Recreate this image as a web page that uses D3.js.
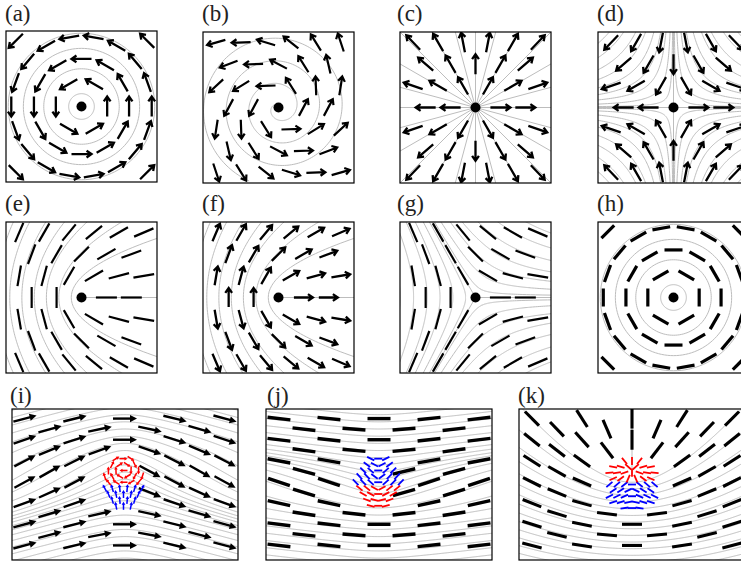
<!DOCTYPE html>
<html>
<head>
<meta charset="utf-8">
<script src="https://cdn.jsdelivr.net/npm/d3@7"></script>
<style>
  body { margin: 0; background: #fff; }
  svg { display: block; }
</style>
</head>
<body>
<script>
// ---- data ----
const labels = ["(a)", "(b)", "(c)", "(d)", "(e)", "(f)", "(g)", "(h)", "(i)", "(j)", "(k)"];

// point defects (a)-(h): charge, phase (deg), vector or director
const charges = [1, 1, 1, -1, 0.5, 0.5, -0.5, 1];
const phases = [90, 62, 0, 0, 0, 0, 0, 90];
const polar = [true, true, true, true, false, true, false, false];
const onRings = [true, false, false, false, false, false, false, true];

// marks on rings in (a) and (h)
const ringCounts = [6, 12, 18];
const ringRadii = [0.34, 0.63, 0.93];
const cornerMarks = [[-0.87, 0.87], [0.87, 0.87], [-0.87, -0.87], [0.87, -0.87]];

// lattice for the other square panels
const latticeRows = [-3, -2, -1, 0, 1, 2, 3];
const latticeCols = [-3, -2, -1, 0, 1, 2, 3];
const rowStep = 0.287, colStep = 0.33;

// grey guide lines
const circleRadii = [0.17, 0.5, 0.77, 0.97];
const radialAngles = d3.range(0, 360, 15);
const hyperbolaC = [0.012, 0.045, 0.1, 0.17, 0.26, 0.37, 0.5, 0.66, 0.85];
const parabolaP = [0.27, 0.6, 0.93, 1.25, 1.58, 1.9, 2.25, 2.6, 3.0, 3.4];
const trefoilR = [0.13, 0.3, 0.47, 0.64, 0.82, 1.0, 1.2];
const spiralTurns = 3.5, spiralPitch = 0.3, spiralEnd = 250;

// wide panels (i)-(k)
const wideCols = [-4, -3, -2, -1, 0, 1, 2, 3, 4];
const wideRows = [-3, -2, -1, 0, 1, 2, 3];
const wideColStep = 0.332, wideRowStep = 0.28, wideRowBase = 0.033;
const streamStarts = d3.range(-1.45, 1.5, 0.095);
const bumpSign = [-1, 1];          // (i) bends up, (j) bends down
const bumpSlope = [0.27, 0.12];
const bumpBoost = [0.3, 0.22];
const bumpCentre = [0.15, 0.0];
const bumpSpread = [0.38, 0.3];
const bumpWidth = [0.35, 0.4];
const defectK = [0, 0.19];         // +1/2 defect in (k)
const bendK = 15;                  // extra bend of the (k) far field, deg
const kStarts = d3.range(0.16, 1.75, 0.088);
const clusterCentre = [[-0.02, 0.03], [-0.01, 0.03], [0, 0.0]];
const clusterRadii = [[0.3, 0.37], [0.31, 0.37], [0.33, 0.38]];
const clusterSplit = [-0.04, -0.02, 0.007];
const clusterTop = ["#f00", "#00f", "#f00"];
const clusterBottom = ["#00f", "#f00", "#00f"];
const vortexI = [-0.02, 0.19];
const chevronJ = [0.2, 0.9, 0.1, 0.25];   // base slope, boost, centre, spread
const chevronK = [0.9, -0.38, 0.39];      // max slope, bottom, height

// ---- layout ----
const W = 741, H = 562;
const squareBoxes = [[6, 31], [203, 32], [400, 32], [598, 32], [6, 222], [203, 222], [400, 222], [598, 222]];
const S = 151;
const wideBoxes = [[12, 409], [266, 409], [519, 409]];
const WW = 226, WH = 151;
const labelXY = [[5, 21], [202, 21], [397, 21], [597, 21], [5, 211], [202, 211], [397, 211], [597, 211], [10, 403], [267, 403], [518, 403]];
const markLen = [20, 19, 20, 20, 21, 19, 21, 18];
const markWidth = [2.3, 2.2, 2.3, 2.3, 2.2, 2.3, 2.2, 3.2];
const GREY = "#bdbdbd";

const svg = d3.select("body").append("svg").attr("width", W).attr("height", H);
const defs = svg.append("defs");

// ---- helpers ----
function seg(px, py, ang, len) {
  const ux = Math.cos(ang) * len / 2, uy = -Math.sin(ang) * len / 2;
  return [px - ux, py - uy, px + ux, py + uy];
}
function barPath(d, len) {
  const [x0, y0, x1, y1] = seg(d.x, d.y, d.a, len);
  return `M${x0},${y0}L${x1},${y1}`;
}
function openArrowPath(d, len, head) {
  const [x0, y0, x1, y1] = seg(d.x, d.y, d.a, len);
  const b1 = d.a + Math.PI - 0.6, b2 = d.a + Math.PI + 0.6;
  return `M${x0},${y0}L${x1},${y1}` +
    `M${x1 + head * Math.cos(b1)},${y1 - head * Math.sin(b1)}L${x1},${y1}` +
    `L${x1 + head * Math.cos(b2)},${y1 - head * Math.sin(b2)}`;
}
function shaftPath(d, len, head) {
  const [x0, y0, x1, y1] = seg(d.x, d.y, d.a, len);
  const cx = Math.cos(d.a), cy = -Math.sin(d.a);
  return `M${x0},${y0}L${x1 - cx * head * 0.6},${y1 - cy * head * 0.6}`;
}
function headPath(d, len, head, hw) {
  const [, , x1, y1] = seg(d.x, d.y, d.a, len);
  const cx = Math.cos(d.a), cy = -Math.sin(d.a);
  const bx = x1 - cx * head, by = y1 - cy * head;
  return `M${x1},${y1}L${bx - cy * hw},${by + cx * hw}L${bx + cy * hw},${by - cx * hw}Z`;
}

function panelFrame(k, bx, by, bw, bh, xdom) {
  const sx = d3.scaleLinear().domain(xdom).range([bx, bx + bw]);
  const sy = d3.scaleLinear().domain([-1, 1]).range([by + bh, by]);
  defs.append("clipPath").attr("id", "clip" + k)
    .append("rect").attr("x", bx).attr("y", by).attr("width", bw).attr("height", bh);
  const g = svg.append("g").attr("class", "panel" + k);
  return { sx, sy, g };
}

function drawGuides(p, lines, clipped, k) {
  const line = d3.line().x(d => p.sx(d[0])).y(d => p.sy(d[1]));
  p.g.append("g")
    .attr("clip-path", clipped ? `url(#clip${k})` : null)
    .selectAll("path")
    .data(lines)
    .join("path")
    .attr("d", line)
    .attr("fill", "none")
    .attr("stroke", GREY)
    .attr("stroke-width", 1);
}

function drawBox(bx, by, bw, bh) {
  svg.append("rect")
    .attr("x", bx).attr("y", by).attr("width", bw).attr("height", bh)
    .attr("fill", "none").attr("stroke", "#000").attr("stroke-width", 1.2);
}

// ---- square panels (a)-(h) ----
function latticePoints() {
  const pts = [];
  latticeRows.forEach(j => {
    const half = Math.abs(j) % 2 ? 0.5 : 0;
    latticeCols.forEach(i => {
      const x = (i + half) * colStep, y = j * rowStep;
      if (Math.abs(x) > 0.86 || Math.hypot(x, y) < 0.2) return;
      pts.push([x, y]);
    });
  });
  return pts;
}
function ringPoints() {
  const pts = [];
  ringCounts.forEach((n, r) => d3.range(n).forEach(m => {
    const t = 2 * Math.PI * m / n;
    pts.push([ringRadii[r] * Math.cos(t), ringRadii[r] * Math.sin(t)]);
  }));
  return pts.concat(cornerMarks);
}

function guideLines(k) {
  const L = [];
  const rad = a => a * Math.PI / 180;
  if (k === 0 || k === 7) {
    circleRadii.forEach(r => L.push(d3.range(0, 362, 3).map(t => [r * Math.cos(rad(t)), r * Math.sin(rad(t))])));
  } else if (k === 1) {
    const span = spiralTurns * 2 * Math.PI;
    const t0 = rad(spiralEnd) - span;
    L.push(d3.range(0, span + 0.001, 0.04).map(u => {
      const r = spiralPitch * u / (2 * Math.PI);
      return [r * Math.cos(t0 + u), r * Math.sin(t0 + u)];
    }));
  } else if (k === 2) {
    radialAngles.forEach(a => L.push([[0, 0], [1.6 * Math.cos(rad(a)), 1.6 * Math.sin(rad(a))]]));
  } else if (k === 3) {
    hyperbolaC.forEach(c => [[1, 1], [1, -1], [-1, 1], [-1, -1]].forEach(([qx, qy]) => {
      const lo = Math.log(c / 1.6), hi = Math.log(1.6);
      L.push(d3.range(0, 1.001, 0.01).map(t => {
        const x = Math.exp(lo + t * (hi - lo));
        return [qx * x, qy * c / x];
      }));
    }));
    L.push([[-1.6, 0], [1.6, 0]], [[0, -1.6], [0, 1.6]]);
  } else if (k === 4 || k === 5) {
    parabolaP.forEach(p => L.push(d3.range(-1.6, 1.601, 0.02).map(y => [(y * y - p * p) / (2 * p), y])));
    L.push([[0, 0], [1.6, 0]]);
  } else if (k === 6) {
    trefoilR.forEach(r0 => {
      const c = Math.pow(r0, 1.5);
      [0, 1, 2].forEach(s => {
        const pts = [];
        for (let t = 0.003; t < 0.997; t += 0.003) {
          const phi = (s + t) * 2 * Math.PI / 3;
          const r = Math.pow(c / Math.abs(Math.sin(1.5 * phi)), 2 / 3);
          if (r < 2.2) pts.push([r * Math.cos(phi), r * Math.sin(phi)]);
        }
        L.push(pts);
      });
    });
    [0, 120, 240].forEach(a => L.push([[0, 0], [1.6 * Math.cos(rad(a)), 1.6 * Math.sin(rad(a))]]));
  }
  return L;
}

squareBoxes.forEach(([bx, by], k) => {
  const p = panelFrame(k, bx, by, S, S, [-1, 1]);
  drawGuides(p, guideLines(k), k !== 1, k);

  const pts = onRings[k] ? ringPoints() : latticePoints();
  const marks = pts.map(([x, y]) => ({
    x: p.sx(x), y: p.sy(y),
    a: charges[k] * Math.atan2(y, x) + phases[k] * Math.PI / 180
  }));

  p.g.append("g")
    .attr("clip-path", `url(#clip${k})`)
    .selectAll("path")
    .data(marks)
    .join("path")
    .attr("d", d => polar[k] ? openArrowPath(d, markLen[k], 6) : barPath(d, markLen[k]))
    .attr("fill", "none")
    .attr("stroke", "#000")
    .attr("stroke-width", markWidth[k])
    .attr("stroke-linejoin", "miter")
    .attr("stroke-miterlimit", 4);

  p.g.append("circle")
    .attr("cx", p.sx(0)).attr("cy", p.sy(0)).attr("r", 5)
    .attr("fill", "#000");
});

// ---- wide panels (i)-(k) ----
function bumpSlopeAt(m, x, y) {
  const g = Math.exp(-Math.pow((y - bumpCentre[m]) / bumpSpread[m], 2));
  const s = bumpSlope[m] + bumpBoost[m] * g;
  const w = bumpWidth[m] * (1 - 0.7 * g);
  return bumpSign[m] * s * x / Math.sqrt(x * x + w * w);
}
function streamline(m, y0) {
  const right = [[0, y0]], left = [];
  const h = 0.01;
  let x = 0, y = y0;
  while (x < 1.65) {
    const k1 = bumpSlopeAt(m, x, y);
    y += h * bumpSlopeAt(m, x + h / 2, y + k1 * h / 2); x += h;
    right.push([x, y]);
  }
  x = 0; y = y0;
  while (x > -1.65) {
    const k1 = bumpSlopeAt(m, x, y);
    y -= h * bumpSlopeAt(m, x - h / 2, y - k1 * h / 2); x -= h;
    left.unshift([x, y]);
  }
  return left.concat(right);
}
// +1/2 defect with its tail pointing up, slightly bent far field
function fieldK(x, y) {
  let phi = Math.atan2(y - defectK[1], x - defectK[0]);
  if (phi < -Math.PI / 2) phi += 2 * Math.PI;
  const u = phi - Math.PI / 2;
  return Math.PI / 2 + 0.5 * u + bendK * Math.PI / 180 * Math.sin(u);
}
function directorLine(f, x0, y0) {
  const h = 0.01;
  const halves = [1, -1].map(sgn => {
    let x = x0, y = y0;
    let dx = sgn * Math.cos(f(x, y)), dy = sgn * Math.sin(f(x, y));
    const pts = [];
    for (let n = 0; n < 500; n++) {
      let a = f(x, y), cx = Math.cos(a), cy = Math.sin(a);
      if (cx * dx + cy * dy < 0) { cx = -cx; cy = -cy; }
      a = f(x + cx * h / 2, y + cy * h / 2);
      let mx = Math.cos(a), my = Math.sin(a);
      if (mx * cx + my * cy < 0) { mx = -mx; my = -my; }
      x += mx * h; y += my * h; dx = mx; dy = my;
      pts.push([x, y]);
      if (Math.abs(x) > 1.7 || Math.abs(y) > 1.3) break;
    }
    return pts;
  });
  return halves[1].reverse().concat([[x0, y0]], halves[0]);
}
function inCluster(m, x, y, grow) {
  const [cx, cy] = clusterCentre[m], [rx, ry] = clusterRadii[m];
  return Math.pow((x - cx) / rx, 2) + Math.pow((y - cy) / ry, 2) < grow * grow;
}
function clusterPoints(m) {
  const pts = [];
  const [cx, cy] = clusterCentre[m];
  for (let j = -8; j <= 8; j++) {
    for (let i = -6; i <= 6; i++) {
      const x = cx + (i + (j % 2 ? 0.5 : 0)) * 0.1, y = cy + j * 0.078;
      if (inCluster(m, x, y, 1)) pts.push([x, y]);
    }
  }
  return pts;
}
function clusterAngle(m, x, y) {
  const upper = y > clusterSplit[m];
  const dx = x - clusterCentre[m][0];
  if (m === 0) {
    if (upper) return Math.atan2(y - vortexI[1], x - vortexI[0]) - Math.PI / 2;
    return Math.PI / 2 - 2.0 * dx;
  }
  if (m === 1) {
    // V-shaped chevrons converging downward
    const s = chevronJ[0] + chevronJ[1] * Math.exp(-Math.pow((y - chevronJ[2]) / chevronJ[3], 2));
    return Math.atan(s * dx / Math.sqrt(dx * dx + 0.003));
  }
  if (upper) return Math.atan2(y - defectK[1], x - defectK[0]);
  // tent-shaped chevrons below the defect, flattening downward
  const s = chevronK[0] * Math.max(0, Math.min(1, (y - chevronK[1]) / chevronK[2]));
  return Math.atan(-s * dx / Math.sqrt(dx * dx + 0.003));
}

wideBoxes.forEach(([bx, by], m) => {
  const k = 8 + m;
  const p = panelFrame(k, bx, by, WW, WH, [-1.5, 1.5]);

  // guides
  let lines;
  if (m < 2) {
    lines = streamStarts.map(y0 => streamline(m, y0));
  } else {
    lines = kStarts.map(d => directorLine(fieldK, defectK[0], defectK[1] - d));
    lines.push([[defectK[0], defectK[1]], [defectK[0], 1.2]]);
  }
  drawGuides(p, lines, true, k);

  // lattice marks
  const pts = [];
  wideCols.forEach(c => {
    const odd = Math.abs(c) % 2 === 1;
    wideRows.forEach(j => {
      if (odd && j === 3) return;
      const x = c * wideColStep;
      const y = wideRowBase + j * wideRowStep + (odd ? wideRowStep / 2 : 0);
      if (inCluster(m, x, y, 1.12)) return;
      pts.push([x, y]);
    });
  });
  const marks = pts.map(([x, y]) => ({
    x: p.sx(x), y: p.sy(y),
    a: m < 2 ? Math.atan(bumpSlopeAt(m, x, y)) : fieldK(x, y)
  }));

  const cmarks = clusterPoints(m).map(([x, y]) => ({
    x: p.sx(x), y: p.sy(y), a: clusterAngle(m, x, y),
    color: y > clusterSplit[m] ? clusterTop[m] : clusterBottom[m]
  }));

  const mg = p.g.append("g").attr("clip-path", `url(#clip${k})`);
  if (m === 0) {
    mg.selectAll("path.shaft").data(marks).join("path").attr("class", "shaft")
      .attr("d", d => shaftPath(d, 24, 7)).attr("stroke", "#000").attr("stroke-width", 2.4).attr("fill", "none");
    mg.selectAll("path.head").data(marks).join("path").attr("class", "head")
      .attr("d", d => headPath(d, 24, 7, 3.6)).attr("fill", "#000");
    mg.selectAll("path.cshaft").data(cmarks).join("path").attr("class", "cshaft")
      .attr("d", d => shaftPath(d, 8, 3)).attr("stroke", d => d.color).attr("stroke-width", 1.5).attr("fill", "none");
    mg.selectAll("path.chead").data(cmarks).join("path").attr("class", "chead")
      .attr("d", d => headPath(d, 8, 3, 1.8)).attr("fill", d => d.color);
  } else {
    mg.selectAll("path.bar").data(marks).join("path").attr("class", "bar")
      .attr("d", d => barPath(d, m === 1 ? 23 : 20)).attr("stroke", "#000")
      .attr("stroke-width", m === 1 ? 3.4 : 3.1).attr("fill", "none");
    mg.selectAll("path.cbar").data(cmarks).join("path").attr("class", "cbar")
      .attr("d", d => barPath(d, 8)).attr("stroke", d => d.color).attr("stroke-width", 1.8).attr("fill", "none");
  }
});

// ---- frames and labels ----
squareBoxes.forEach(([bx, by]) => drawBox(bx, by, S, S));
wideBoxes.forEach(([bx, by]) => drawBox(bx, by, WW, WH));

svg.selectAll("text.label")
  .data(labels)
  .join("text")
  .attr("class", "label")
  .attr("x", (d, i) => labelXY[i][0])
  .attr("y", (d, i) => labelXY[i][1])
  .attr("font-family", "'Liberation Serif', 'DejaVu Serif', serif")
  .attr("font-size", 23)
  .attr("fill", "#222")
  .text(d => d);
</script>
</body>
</html>
